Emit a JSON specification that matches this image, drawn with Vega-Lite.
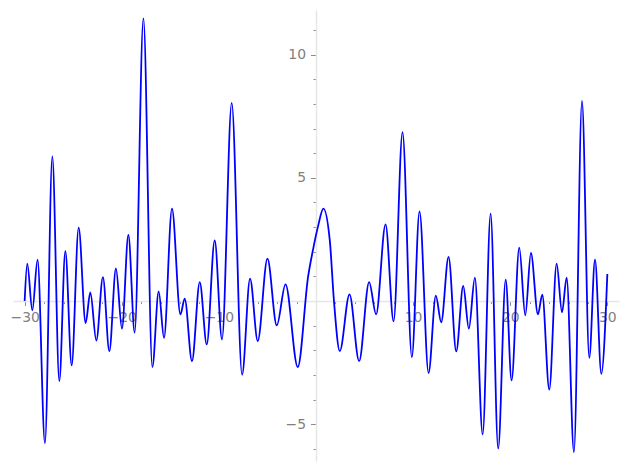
{
  "$schema": "https://vega.github.io/schema/vega-lite/v6.json",
  "width": 606,
  "height": 451,
  "autosize": {"type": "none"},
  "padding": {"left": 13, "top": 10, "right": 8, "bottom": 9},
  "config": {
    "view": {"stroke": null},
    "axis": {
      "grid": false,
      "title": null,
      "labelFont": "DejaVu Sans",
      "labelFontSize": 13.9,
      "labelColor": "#808080",
      "domainColor": "#e6e6e6",
      "domainWidth": 1.5,
      "tickColor": "#8c8c8c",
      "tickWidth": 1
    }
  },
  "data": {
    "values": [
      {"x": -30, "y": 0.0},
      {"x": -29.73, "y": 1.52},
      {"x": -29.21, "y": -0.38},
      {"x": -28.67, "y": 1.68},
      {"x": -27.91, "y": -5.77},
      {"x": -27.15, "y": 5.87},
      {"x": -26.43, "y": -3.25},
      {"x": -25.81, "y": 2.03},
      {"x": -25.16, "y": -2.61},
      {"x": -24.44, "y": 2.98},
      {"x": -23.72, "y": -0.89},
      {"x": -23.24, "y": 0.35},
      {"x": -22.62, "y": -1.6},
      {"x": -21.94, "y": 0.97},
      {"x": -21.28, "y": -2.04},
      {"x": -20.6, "y": 1.32},
      {"x": -19.98, "y": -1.12},
      {"x": -19.32, "y": 2.68},
      {"x": -18.67, "y": -1.28},
      {"x": -17.77, "y": 11.47},
      {"x": -16.85, "y": -2.68},
      {"x": -16.2, "y": 0.39},
      {"x": -15.65, "y": -1.49},
      {"x": -14.83, "y": 3.75},
      {"x": -13.96, "y": -0.54},
      {"x": -13.52, "y": 0.1},
      {"x": -12.77, "y": -2.44},
      {"x": -11.97, "y": 0.77},
      {"x": -11.25, "y": -1.76},
      {"x": -10.43, "y": 2.46},
      {"x": -9.68, "y": -1.56},
      {"x": -8.68, "y": 8.04},
      {"x": -7.61, "y": -2.99},
      {"x": -6.79, "y": 0.91},
      {"x": -6.0, "y": -1.62},
      {"x": -5.0, "y": 1.72},
      {"x": -4.04, "y": -0.99},
      {"x": -3.14, "y": 0.68},
      {"x": -1.88, "y": -2.68},
      {"x": -0.81, "y": 1.0},
      {"x": -0.3, "y": 2.1},
      {"x": 0.22, "y": 3.05},
      {"x": 0.76, "y": 3.75},
      {"x": 1.42, "y": 2.46},
      {"x": 1.85, "y": 0.0},
      {"x": 2.45, "y": -2.03},
      {"x": 3.45, "y": 0.27},
      {"x": 4.44, "y": -2.44},
      {"x": 5.47, "y": 0.77},
      {"x": 6.19, "y": -0.54},
      {"x": 7.16, "y": 3.11},
      {"x": 7.99, "y": -0.82},
      {"x": 8.91, "y": 6.85},
      {"x": 9.87, "y": -2.27},
      {"x": 10.66, "y": 3.64},
      {"x": 11.59, "y": -2.92},
      {"x": 12.34, "y": 0.22},
      {"x": 12.89, "y": -0.86},
      {"x": 13.65, "y": 1.79},
      {"x": 14.44, "y": -2.04},
      {"x": 15.16, "y": 0.61},
      {"x": 15.74, "y": -1.12},
      {"x": 16.36, "y": 0.95},
      {"x": 17.16, "y": -5.41},
      {"x": 17.98, "y": 3.55},
      {"x": 18.76, "y": -5.99},
      {"x": 19.53, "y": 0.87},
      {"x": 20.14, "y": -3.22},
      {"x": 20.93, "y": 2.17},
      {"x": 21.55, "y": -0.58},
      {"x": 22.13, "y": 1.95},
      {"x": 22.85, "y": -0.54},
      {"x": 23.3, "y": 0.26},
      {"x": 24.02, "y": -3.59},
      {"x": 24.78, "y": 1.52},
      {"x": 25.33, "y": -0.46},
      {"x": 25.81, "y": 0.95},
      {"x": 26.56, "y": -6.13},
      {"x": 27.39, "y": 8.12},
      {"x": 28.14, "y": -2.3},
      {"x": 28.73, "y": 1.68},
      {"x": 29.38, "y": -2.95},
      {"x": 30, "y": 1.1}
    ]
  },
  "layer": [
    {
      "mark": {"type": "line", "opacity": 0, "interpolate": "monotone"},
      "encoding": {
        "x": {
          "field": "x", "type": "quantitative",
          "scale": {"domain": [-31.2, 31.2], "nice": false, "zero": false},
          "axis": {"orient": "bottom", "offset": -160, "domain": false, "labels": false, "tickSize": 2.5,
                   "values": [-28, -26, -24, -22, -18, -16, -14, -12, -8, -6, -4, -2, 2, 4, 6, 8, 12, 14, 16, 18, 22, 24, 26, 28]}
        },
        "y": {
          "field": "y", "type": "quantitative",
          "scale": {"domain": [-6.49, 11.81], "nice": false, "zero": false},
          "axis": {"orient": "left", "offset": -303, "domain": false, "labels": false, "tickSize": 3,
                   "values": [-6, -4, -3, -2, -1, 1, 2, 3, 4, 6, 7, 8, 9, 11]}
        }
      }
    },
    {
      "mark": {"type": "line", "color": "#0000ff", "strokeWidth": 1.8, "interpolate": "monotone"},
      "encoding": {
        "x": {
          "field": "x", "type": "quantitative",
          "scale": {"domain": [-31.2, 31.2], "nice": false, "zero": false},
          "axis": {"orient": "bottom", "offset": -160, "tickSize": 4.5, "labelPadding": 5,
                   "values": [-30, -20, -10, 10, 20, 30]}
        },
        "y": {
          "field": "y", "type": "quantitative",
          "scale": {"domain": [-6.49, 11.81], "nice": false, "zero": false},
          "axis": {"orient": "left", "offset": -303, "tickSize": 5.5, "labelPadding": 5,
                   "values": [-5, 5, 10]}
        }
      }
    }
  ],
  "resolve": {"axis": {"x": "independent", "y": "independent"}}
}
